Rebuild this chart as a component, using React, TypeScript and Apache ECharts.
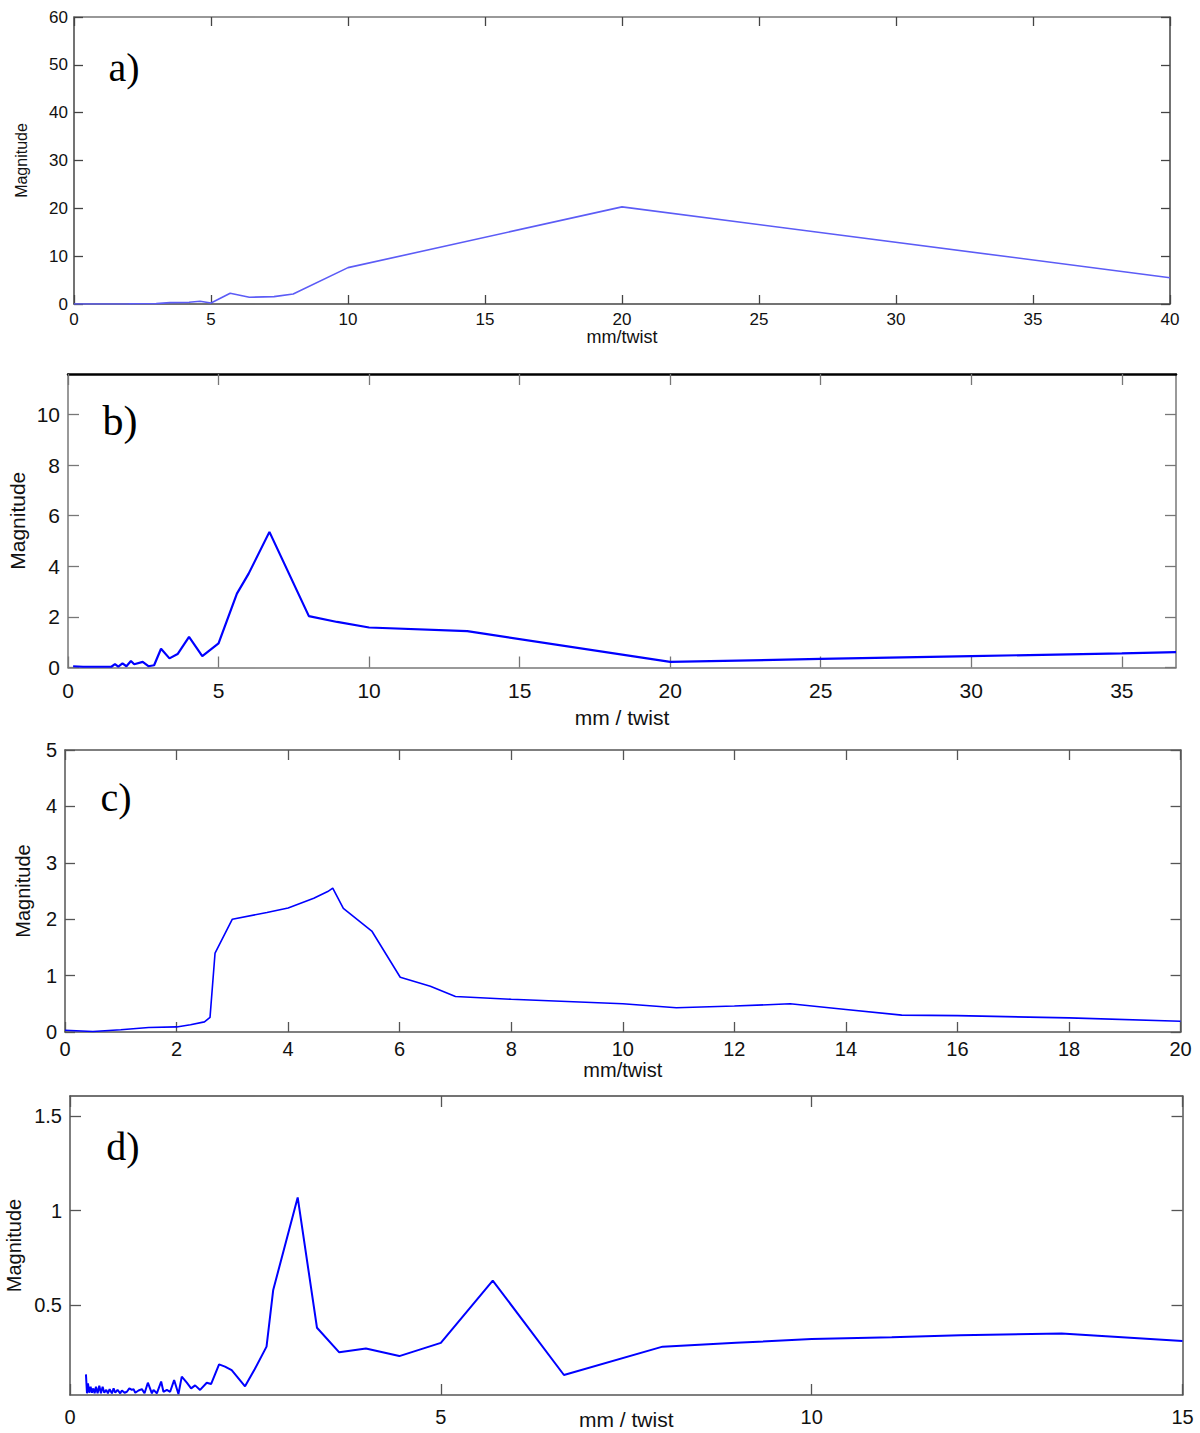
import React, { useEffect, useRef } from "react";
import * as echarts from "echarts";

// ---------- Panel a ----------
const aX = [0, 1, 2, 2.5, 3, 3.5, 4.2, 4.6, 5, 5.7, 6.4, 7.3, 8, 10, 20, 40];
const aY = [0, 0, 0.02, 0.05, 0.08, 0.28, 0.35, 0.56, 0.2, 2.24, 1.4, 1.55, 2.1, 7.6, 20.3, 5.5];
const aXTicks = [0, 5, 10, 15, 20, 25, 30, 35, 40];
const aYTicks = [0, 10, 20, 30, 40, 50, 60];

// ---------- Panel b ----------
const bX = [0.17, 0.5, 1.0, 1.44, 1.56, 1.67, 1.81, 1.94, 2.09, 2.2, 2.48, 2.67, 2.86, 3.09, 3.37, 3.64, 4.02, 4.46, 5.0, 5.61, 6.0, 6.69, 8.0, 8.94, 10.0, 13.26, 20, 25, 30, 35, 36.8];
const bY = [0.05, 0.03, 0.03, 0.03, 0.13, 0.03, 0.16, 0.05, 0.26, 0.13, 0.22, 0.05, 0.09, 0.74, 0.36, 0.53, 1.21, 0.45, 0.95, 2.92, 3.71, 5.36, 2.03, 1.8, 1.58, 1.44, 0.22, 0.34, 0.45, 0.56, 0.61];
const bXTicks = [0, 5, 10, 15, 20, 25, 30, 35];
const bYTicks = [0, 2, 4, 6, 8, 10];

// ---------- Panel c ----------
const cX = [0, 0.5, 1, 1.5, 2, 2.25, 2.5, 2.6, 2.69, 3.0, 3.62, 4.0, 4.46, 4.71, 4.8, 4.99, 5.5, 6.01, 6.55, 7.0, 8, 10, 10.96, 12, 13, 14, 15, 16, 18, 20];
const cY = [0.03, 0.01, 0.04, 0.08, 0.09, 0.13, 0.18, 0.26, 1.4, 2.0, 2.12, 2.2, 2.37, 2.49, 2.55, 2.19, 1.79, 0.97, 0.81, 0.63, 0.58, 0.5, 0.43, 0.46, 0.5, 0.4, 0.3, 0.29, 0.25, 0.19];
const cXTicks = [0, 2, 4, 6, 8, 10, 12, 14, 16, 18, 20];
const cYTicks = [0, 1, 2, 3, 4, 5];

// ---------- Panel d ----------
const dX = [
  0.215, 0.229, 0.242, 0.26, 0.278, 0.296, 0.314, 0.332, 0.35, 0.372, 0.395, 0.417, 0.44, 0.462, 0.489, 0.511,
  0.534, 0.565, 0.588, 0.61, 0.641, 0.677, 0.7, 0.736, 0.767, 0.8, 0.834, 0.857, 0.88, 0.924, 0.969, 1.005,
  1.05, 1.104, 1.126, 1.171, 1.229, 1.26, 1.306, 1.35, 1.404, 1.462, 1.507, 1.575, 1.633, 1.687, 1.754, 1.844,
  1.902, 2.01, 2.09, 2.18, 2.36, 2.49, 2.65, 2.74, 3.07, 3.33, 3.63, 3.99, 4.44, 5.0, 5.7, 6.66, 7.99, 8.98,
  10, 11.08, 12, 13.37, 15,
];
const dY = [
  0.133, 0.033, 0.086, 0.036, 0.068, 0.036, 0.059, 0.033, 0.068, 0.033, 0.073, 0.033, 0.068, 0.036, 0.051, 0.033,
  0.055, 0.033, 0.059, 0.036, 0.051, 0.033, 0.048, 0.036, 0.041, 0.059, 0.051, 0.055, 0.036, 0.048, 0.055, 0.033,
  0.089, 0.033, 0.051, 0.033, 0.095, 0.041, 0.051, 0.041, 0.103, 0.029, 0.121, 0.089, 0.059, 0.075, 0.051, 0.089,
  0.082, 0.186, 0.174, 0.156, 0.07, 0.16, 0.28, 0.58, 1.07, 0.38, 0.25, 0.27, 0.23, 0.3, 0.63, 0.13, 0.28, 0.3,
  0.32, 0.33, 0.34, 0.35, 0.31,
];
const dXTicks = [0, 5, 10, 15];
const dYTicks = [0.5, 1, 1.5];

const zip = (xs: number[], ys: number[]) => xs.map((x, i) => [x, ys[i]]);

const SANS = "Liberation Sans, Arial, Helvetica, sans-serif";
const SERIF = "Liberation Serif, Times New Roman, serif";

type Panel = {
  left: number; top: number; width: number; height: number;
  xMin: number; xMax: number; yMin: number; yMax: number;
  xTicks: number[]; yTicks: number[];
  data: number[][];
  lineColor: string; lineWidth: number;
  fontSize: number; xNameFontSize: number; yNameFontSize: number;
  tickLen: number;
  xLabelMargin: number; yLabelMargin: number;
  xName: string; xNameGap: number; yNameGap: number;
  axisColor: string; topColor: string; topWidth: number; axisWidth: number;
};

const panels: Panel[] = [
  {
    left: 74, top: 17, width: 1096, height: 287,
    xMin: 0, xMax: 40, yMin: 0, yMax: 60,
    xTicks: aXTicks, yTicks: aYTicks, data: zip(aX, aY),
    lineColor: "#5c5cf6", lineWidth: 1.6,
    fontSize: 17, xNameFontSize: 18, yNameFontSize: 16, tickLen: 9,
    xLabelMargin: 7, yLabelMargin: 6,
    xName: "mm/twist", xNameGap: 24, yNameGap: 45,
    axisColor: "#444", topColor: "#777", topWidth: 1.5, axisWidth: 1.5,
  },
  {
    left: 68, top: 374, width: 1108, height: 293.5,
    xMin: 0, xMax: 36.8, yMin: 0, yMax: 11.6,
    xTicks: bXTicks, yTicks: bYTicks, data: zip(bX, bY),
    lineColor: "#0000ff", lineWidth: 2.2,
    fontSize: 21, xNameFontSize: 21, yNameFontSize: 21, tickLen: 11,
    xLabelMargin: 12, yLabelMargin: 8,
    xName: "mm / twist", xNameGap: 39, yNameGap: 40,
    axisColor: "#777", topColor: "#000", topWidth: 2.5, axisWidth: 1.5,
  },
  {
    left: 65, top: 750, width: 1115.6, height: 282,
    xMin: 0, xMax: 20, yMin: 0, yMax: 5,
    xTicks: cXTicks, yTicks: cYTicks, data: zip(cX, cY),
    lineColor: "#0000ff", lineWidth: 1.6,
    fontSize: 20, xNameFontSize: 20, yNameFontSize: 20, tickLen: 10,
    xLabelMargin: 7, yLabelMargin: 8,
    xName: "mm/twist", xNameGap: 28, yNameGap: 32,
    axisColor: "#555", topColor: "#555", topWidth: 1.5, axisWidth: 1.5,
  },
  {
    left: 70, top: 1096, width: 1112.5, height: 299,
    xMin: 0, xMax: 15, yMin: 0.024, yMax: 1.607,
    xTicks: dXTicks, yTicks: dYTicks, data: zip(dX, dY),
    lineColor: "#0000ff", lineWidth: 2,
    fontSize: 20, xNameFontSize: 21, yNameFontSize: 20, tickLen: 11,
    xLabelMargin: 12, yLabelMargin: 8,
    xName: "mm / twist", xNameGap: 14, yNameGap: 46,
    axisColor: "#555", topColor: "#444", topWidth: 1.5, axisWidth: 1.5,
  },
];

const letters = [
  { text: "a)", x: 124, y: 67, size: 40 },
  { text: "b)", x: 120, y: 421, size: 42 },
  { text: "c)", x: 116, y: 797, size: 40 },
  { text: "d)", x: 123, y: 1146, size: 40 },
];

function buildOption() {
  const grid: any[] = [];
  const xAxis: any[] = [];
  const yAxis: any[] = [];
  const series: any[] = [];

  panels.forEach((p, gi) => {
    grid.push({ left: p.left, top: p.top, width: p.width, height: p.height, show: false, containLabel: false, outerBoundsMode: "none" });
    const line = (color: string, width: number) => ({ show: true, onZero: false, lineStyle: { color, width } });
    const tick = (vals: number[], color: string) => ({
      show: true, inside: true, length: p.tickLen, customValues: vals, lineStyle: { color, width: 1.3 },
    });
    const label = (vals: number[], margin: number) => ({
      show: true, customValues: vals, margin, fontSize: p.fontSize, color: "#111", fontFamily: SANS,
      showMinLabel: true, showMaxLabel: true,
    });
    xAxis.push({
      type: "value", gridIndex: gi, position: "bottom", min: p.xMin, max: p.xMax,
      axisLine: line(p.axisColor, p.axisWidth), axisTick: tick(p.xTicks, p.axisColor),
      axisLabel: label(p.xTicks, p.xLabelMargin), splitLine: { show: false },
      name: p.xName, nameLocation: "middle", nameGap: p.xNameGap, nameMoveOverlap: false,
      nameTextStyle: { fontSize: p.xNameFontSize, color: "#111", fontFamily: SANS },
    });
    xAxis.push({
      type: "value", gridIndex: gi, position: "top", min: p.xMin, max: p.xMax,
      axisLine: line(p.topColor, p.topWidth), axisTick: tick(p.xTicks, p.axisColor),
      axisLabel: { show: false }, splitLine: { show: false },
    });
    yAxis.push({
      type: "value", gridIndex: gi, position: "left", min: p.yMin, max: p.yMax,
      axisLine: line(p.axisColor, p.axisWidth), axisTick: tick(p.yTicks, p.axisColor),
      axisLabel: label(p.yTicks, p.yLabelMargin), splitLine: { show: false },
      name: "Magnitude", nameLocation: "middle", nameGap: p.yNameGap, nameRotate: 90, nameMoveOverlap: false,
      nameTextStyle: { fontSize: p.yNameFontSize, color: "#111", fontFamily: SANS },
    });
    yAxis.push({
      type: "value", gridIndex: gi, position: "right", min: p.yMin, max: p.yMax,
      axisLine: line(p.axisColor, p.axisWidth), axisTick: tick(p.yTicks, p.axisColor),
      axisLabel: { show: false }, splitLine: { show: false },
    });
    series.push({
      type: "line", xAxisIndex: gi * 2, yAxisIndex: gi * 2, data: p.data,
      showSymbol: false, symbol: "none", clip: true,
      lineStyle: { color: p.lineColor, width: p.lineWidth }, itemStyle: { color: p.lineColor },
    });
  });

  const graphic = letters.map((l) => ({
    type: "text", x: l.x, y: l.y, z: 10,
    style: { text: l.text, fontSize: l.size, fontFamily: SERIF, fill: "#000", align: "center", verticalAlign: "middle" },
  }));

  return { animation: false, backgroundColor: "#fff", grid, xAxis, yAxis, series, graphic, tooltip: { show: false } };
}

export default function App() {
  const ref = useRef<HTMLDivElement>(null);
  useEffect(() => {
    if (!ref.current) return;
    const chart = echarts.init(ref.current, undefined, { renderer: "svg" });
    chart.setOption(buildOption() as any);
    return () => chart.dispose();
  }, []);
  return (
    <div
      ref={ref}
      style={{ position: "absolute", left: 0, top: 0, width: 1200, height: 1433, background: "#fff" }}
    />
  );
}
